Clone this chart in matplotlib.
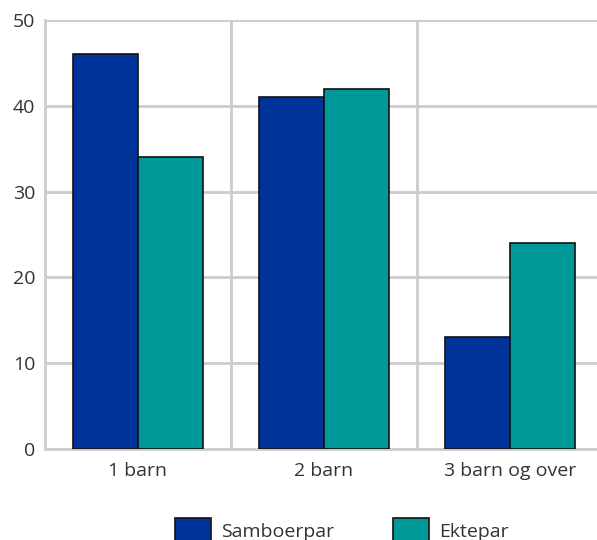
import matplotlib.pyplot as plt
import numpy as np

plt.rcParams['font.family'] = ['Open Sans', 'DejaVu Sans']

categories = ["1 barn", "2 barn", "3 barn og over"]
samboerpar = [46, 41, 13]
ektepar = [34, 42, 24]
yticks = [0, 10, 20, 30, 40, 50]

fig = plt.figure(figsize=(5.97, 5.4), dpi=100)
# plot area runs past the right edge of the picture
ax = fig.add_axes([45 / 597, 1 - 449 / 540, 558 / 597, 429 / 540])

x = np.arange(len(categories))
w = 0.352
ax.bar(x - w / 2, samboerpar, w, color='#003399', edgecolor='#111111', linewidth=1.2,
       label='Samboerpar', zorder=3)
ax.bar(x + w / 2, ektepar, w, color='#009999', edgecolor='#111111', linewidth=1.2,
       label='Ektepar', zorder=3)

ax.set_xlim(-0.5, 2.5)
ax.set_ylim(0, 50)
ax.set_yticks(yticks)
ax.set_xticks(x)
ax.set_xticklabels(categories)
ax.set_xticks([0.5, 1.5], minor=True)

ax.grid(axis='y', color='#cccccc', linewidth=2, zorder=0)
ax.grid(axis='x', which='minor', color='#cccccc', linewidth=2, zorder=0)
ax.tick_params(axis='both', which='both', length=0, labelsize=14, colors='#333333')
ax.tick_params(axis='x', pad=9)
ax.tick_params(axis='y', pad=7)

for s in ['top', 'right']:
    ax.spines[s].set_visible(False)
ax.spines['left'].set_color('#cccccc')
ax.spines['left'].set_linewidth(2)
ax.spines['bottom'].set_color('#cccccc')
ax.spines['bottom'].set_linewidth(2)

fig.legend(loc='center', bbox_to_anchor=(342 / 597, 1 - 531 / 540), ncol=2, frameon=False,
           fontsize=14, handlelength=1.85, handleheight=1.7, columnspacing=3.0,
           handletextpad=0.52, labelcolor='#333333', borderpad=0)

fig.savefig('out.png', dpi=100)
